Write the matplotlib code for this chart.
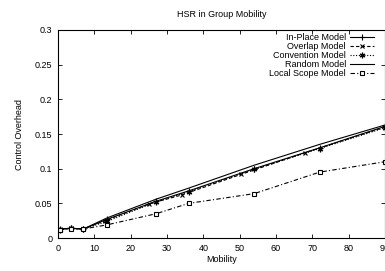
import numpy as np
import matplotlib
matplotlib.use('Agg')
import matplotlib.pyplot as plt

plt.rcParams['font.family'] = ['Liberation Sans', 'DejaVu Sans']

#=====================
# DATA
#=====================
mobility = [0.5, 3.5, 7, 13.5, 27, 36, 54, 72, 90]
mobility_overlap = [0.5, 3.5, 7, 13, 25, 34, 50.5, 68, 90]

in_place = [0.013, 0.014, 0.013, 0.027, 0.053, 0.068, 0.100, 0.130, 0.161]
overlap = [0.013, 0.014, 0.013, 0.025, 0.049, 0.062, 0.092, 0.123, 0.160]
convention = [0.012, 0.014, 0.013, 0.024, 0.052, 0.067, 0.099, 0.129, 0.159]
random_model = [0.013, 0.014, 0.013, 0.029, 0.056, 0.072, 0.105, 0.135, 0.163]
local_scope = [0.012, 0.013, 0.013, 0.019, 0.035, 0.050, 0.064, 0.095, 0.110]

xticks = np.arange(0, 91, 10)
yticks = [0, 0.05, 0.1, 0.15, 0.2, 0.25, 0.3]
ytick_labels = ['0', '0.05', '0.1', '0.15', '0.2', '0.25', '0.3']

fig = plt.figure(figsize=(3.85, 2.71), dpi=100)
ax = fig.add_axes([58 / 385, 33 / 271, 327 / 385, 208 / 271])

lw = 0.8
ax.plot(mobility, in_place, color='black', lw=lw, marker='+', ms=4, mew=0.8,
        label='In-Place Model')
ax.plot(mobility_overlap, overlap, color='black', lw=lw, ls=(0, (3, 2)),
        marker='x', ms=3, mew=0.8, label='Overlap Model')
ax.plot(mobility, convention, color='black', lw=lw, ls=(0, (1, 1.5)),
        marker=(6, 2, 0), ms=4, mew=0.9, label='Convention Model')
ax.plot(mobility, random_model, color='black', lw=lw, label='Random Model')
ax.plot(mobility, local_scope, color='black', lw=lw, ls=(0, (4, 2, 1, 2)),
        marker='s', ms=3.5, mfc='white', mew=0.8, label='Local Scope Model')

ax.set_xlim(0, 90)
ax.set_ylim(0, 0.3)
ax.set_xticks(xticks)
ax.set_yticks(yticks)
ax.set_yticklabels(ytick_labels)
ax.tick_params(direction='in', top=True, right=True, length=3, width=0.6,
               labelsize=6.5, pad=4)
for s in ax.spines.values():
    s.set_linewidth(0.8)

ax.set_title('HSR in Group Mobility', fontsize=6.5, pad=9)
ax.set_xlabel('Mobility', fontsize=6.5, labelpad=2)
ax.set_ylabel('Control Overhead', fontsize=6.5, labelpad=8)

leg = ax.legend(loc='upper right', bbox_to_anchor=(0.985, 1.015),
                frameon=False, markerfirst=False,
                fontsize=6.5, handlelength=2.6, labelspacing=0.0,
                borderaxespad=0.3, handletextpad=0.5)
for t in leg.get_texts():
    t.set_ha('right')

fig.savefig('out.png', dpi=100)
